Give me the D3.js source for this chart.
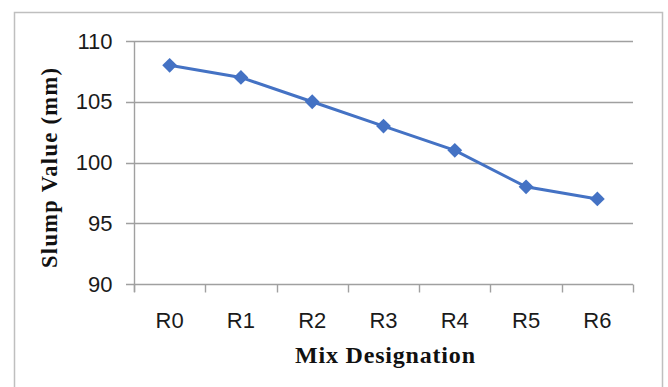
<!DOCTYPE html>
<html><head><meta charset="utf-8">
<script src="https://cdn.jsdelivr.net/npm/d3@7"></script>
<style>body{margin:0;background:#fff}svg{display:block}</style>
</head><body>
<script>
const categories = ["R0","R1","R2","R3","R4","R5","R6"];
const slump = [108,107,105,103,101,98,97];
const yTicks = [90,95,100,105,110];
const xTitle = "Mix Designation";
const yTitle = "Slump Value (mm)";

const W = 668, H = 387;
const svg = d3.select("body").append("svg").attr("width",W).attr("height",H);
svg.append("rect").attr("x",14.5).attr("y",12.5).attr("width",648).attr("height",400)
  .attr("fill","#fff").attr("stroke","#bfbfbf").attr("stroke-width",1.5);

const L = 134, R = 633, T = 41, B = 284;
const x = d3.scaleBand().domain(categories).range([L,R]);
const y = d3.scaleLinear().domain([90,110]).range([B,T]);
const labelFont = "Liberation Sans, Arial, sans-serif";

// gridlines
svg.append("g").selectAll("line").data(yTicks).join("line")
  .attr("x1",L-8).attr("x2",R).attr("y1",d=>Math.round(y(d))+0.5).attr("y2",d=>Math.round(y(d))+0.5)
  .attr("stroke","#a0a0a0").attr("stroke-width",1.4);

// y axis
const ya = svg.append("g").attr("transform",`translate(${L+0.5},0)`)
  .call(d3.axisLeft(y).tickValues(yTicks).tickSize(0).tickPadding(22));
ya.select(".domain").attr("stroke","#a0a0a0").attr("stroke-width",1.4).attr("d",`M0,${T}V${B+8}`);
ya.selectAll("text").attr("font-family",labelFont).attr("font-size",22).attr("fill","#1a1a1a");

// x axis
const xa = svg.append("g").attr("transform",`translate(0,${Math.round(B)+0.5})`)
  .call(d3.axisBottom(x).tickSize(0).tickPadding(28));
xa.select(".domain").remove();
xa.selectAll("text").attr("font-family",labelFont).attr("font-size",22).attr("fill","#1a1a1a");
const bounds = categories.map(c=>x(c)).concat([R]);
xa.selectAll("line.tk").data(bounds).join("line").attr("class","tk")
  .attr("x1",d=>Math.round(d)+0.5).attr("x2",d=>Math.round(d)+0.5).attr("y1",0).attr("y2",8)
  .attr("stroke","#a0a0a0").attr("stroke-width",1.4);

// line
const cx = (d,i)=>x(categories[i])+x.bandwidth()/2;
const line = d3.line().x(cx).y(d=>y(d));
svg.append("path").datum(slump).attr("d",line).attr("fill","none")
  .attr("stroke","#4472c4").attr("stroke-width",3);
svg.append("g").selectAll("path").data(slump).join("path")
  .attr("d",d3.symbol(d3.symbolDiamond2,140))
  .attr("transform",(d,i)=>`translate(${cx(d,i)},${y(d)})`)
  .attr("fill","#4472c4");

// titles
svg.append("text").attr("x",385).attr("y",363).attr("text-anchor","middle")
  .attr("font-family","Liberation Serif, Times New Roman, serif").attr("font-weight","bold")
  .attr("font-size",24).attr("fill","#111")
  .attr("textLength",180).attr("lengthAdjust","spacing").text(xTitle);
svg.append("text").attr("transform",`translate(57,168) rotate(-90)`).attr("text-anchor","middle")
  .attr("font-family","Liberation Serif, Times New Roman, serif").attr("font-weight","bold")
  .attr("font-size",22.5).attr("fill","#111")
  .attr("textLength",200).attr("lengthAdjust","spacing").text(yTitle);
</script>
</body></html>
